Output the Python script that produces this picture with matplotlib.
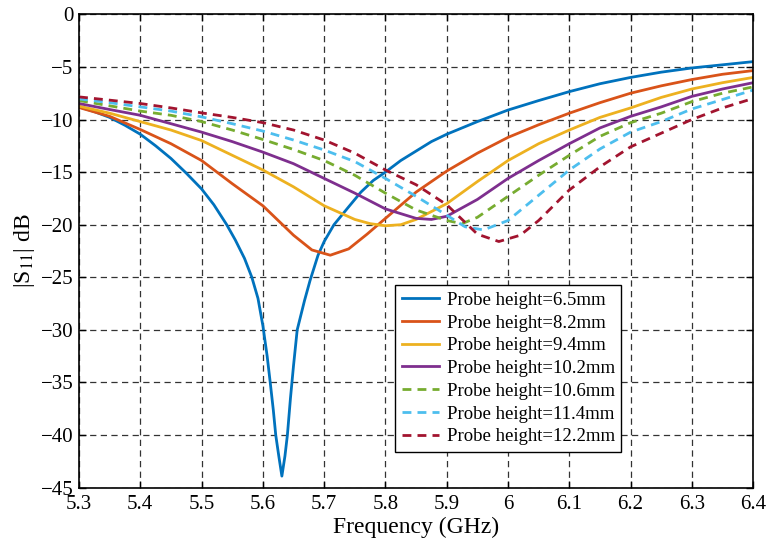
import matplotlib
matplotlib.use("Agg")
import matplotlib.pyplot as plt

plt.rcParams['font.family'] = ['Liberation Serif', 'DejaVu Serif']
plt.rcParams['mathtext.fontset'] = 'stix'

# S11 sweeps for each probe height (GHz, dB)
f_65 = [5.3, 5.325, 5.35, 5.375, 5.4, 5.425, 5.45, 5.475, 5.5, 5.52, 5.541, 5.555, 5.57,
        5.582, 5.592, 5.6, 5.607, 5.612, 5.617, 5.621, 5.626, 5.631, 5.636, 5.64, 5.645,
        5.65, 5.656, 5.668, 5.677, 5.69, 5.70, 5.716, 5.74, 5.76, 5.78, 5.8, 5.825, 5.85,
        5.875, 5.9, 5.95, 6.0, 6.05, 6.1, 6.15, 6.2, 6.25, 6.3, 6.35, 6.4]
s_65 = [-8.8, -9.25, -9.8, -10.55, -11.4, -12.5, -13.7, -15.1, -16.6, -18.1, -20.0, -21.45, -23.2,
        -25.0, -27.0, -29.6, -32.5, -35.0, -37.6, -40.0, -42.0, -43.9, -42.0, -40.0, -36.5,
        -33.4, -30.0, -27.2, -25.3, -22.9, -21.6, -20.0, -18.3, -16.9, -15.8, -15.0, -13.9, -13.0,
        -12.1, -11.4, -10.2, -9.1, -8.2, -7.35, -6.6, -6.0, -5.5, -5.1, -4.8, -4.5]

f_82 = [5.3, 5.35, 5.4, 5.45, 5.5, 5.55, 5.6, 5.65, 5.68, 5.71, 5.74, 5.77, 5.8, 5.85,
        5.9, 5.95, 6.0, 6.05, 6.1, 6.15, 6.2, 6.25, 6.3, 6.35, 6.4]
s_82 = [-8.86, -9.7, -10.95, -12.3, -13.9, -16.1, -18.2, -21.0, -22.4, -22.9, -22.3, -20.9,
        -19.4, -16.9, -14.9, -13.2, -11.7, -10.5, -9.4, -8.4, -7.5, -6.8, -6.2, -5.7, -5.35]

f_94 = [5.3, 5.35, 5.4, 5.45, 5.5, 5.55, 5.6, 5.65, 5.7, 5.75, 5.775, 5.8, 5.825, 5.85,
        5.9, 5.95, 6.0, 6.05, 6.1, 6.15, 6.2, 6.25, 6.3, 6.35, 6.4]
s_94 = [-8.73, -9.4, -10.2, -11.0, -12.0, -13.4, -14.8, -16.4, -18.2, -19.5, -19.9, -20.1,
        -20.0, -19.5, -18.0, -15.9, -13.9, -12.3, -11.0, -9.8, -8.9, -7.9, -7.1, -6.5, -6.0]

f_102 = [5.3, 5.35, 5.4, 5.45, 5.5, 5.55, 5.6, 5.65, 5.7, 5.75, 5.8, 5.85, 5.875, 5.9,
         5.95, 6.0, 6.05, 6.1, 6.15, 6.2, 6.25, 6.3, 6.35, 6.4]
s_102 = [-8.48, -9.05, -9.6, -10.4, -11.2, -12.1, -13.1, -14.2, -15.6, -17.0, -18.5, -19.4,
         -19.5, -19.2, -17.6, -15.6, -13.9, -12.3, -10.8, -9.7, -8.8, -7.8, -7.1, -6.5]

f_106 = [5.3, 5.35, 5.4, 5.45, 5.5, 5.55, 5.6, 5.65, 5.7, 5.75, 5.8, 5.85, 5.9, 5.925,
         5.95, 6.0, 6.05, 6.1, 6.15, 6.2, 6.25, 6.3, 6.35, 6.4]
s_106 = [-8.2, -8.7, -9.2, -9.6, -10.2, -11.0, -11.9, -12.85, -13.9, -15.3, -17.0, -18.6,
         -19.6, -19.9, -19.3, -17.3, -15.3, -13.4, -11.6, -10.3, -9.4, -8.3, -7.5, -6.9]

f_114 = [5.3, 5.35, 5.4, 5.45, 5.5, 5.55, 5.6, 5.65, 5.7, 5.75, 5.8, 5.85, 5.9, 5.93,
         5.96, 6.0, 6.05, 6.1, 6.15, 6.2, 6.25, 6.3, 6.35, 6.4]
s_114 = [-8.04, -8.4, -8.8, -9.2, -9.75, -10.4, -11.1, -11.95, -12.9, -14.0, -15.6, -17.3,
         -19.1, -20.2, -20.5, -19.6, -17.2, -14.8, -12.8, -11.2, -10.2, -9.0, -8.1, -7.2]

f_122 = [5.3, 5.35, 5.4, 5.45, 5.5, 5.55, 5.6, 5.65, 5.7, 5.75, 5.8, 5.85, 5.9, 5.95,
         5.985, 6.02, 6.05, 6.1, 6.15, 6.2, 6.25, 6.3, 6.35, 6.4]
s_122 = [-7.85, -8.16, -8.48, -8.9, -9.37, -9.8, -10.3, -11.0, -11.95, -13.2, -14.8, -16.2,
         -18.1, -20.9, -21.6, -21.0, -19.6, -16.7, -14.5, -12.6, -11.3, -10.0, -8.9, -8.0]

labels = ['Probe height=6.5mm', 'Probe height=8.2mm', 'Probe height=9.4mm',
          'Probe height=10.2mm', 'Probe height=10.6mm', 'Probe height=11.4mm',
          'Probe height=12.2mm']
series = [(f_65, s_65), (f_82, s_82), (f_94, s_94), (f_102, s_102),
          (f_106, s_106), (f_114, s_114), (f_122, s_122)]
colors = ['#0072BD', '#D95319', '#EDB120', '#7E2F8E', '#77AC30', '#4DBEEE', '#A2142F']
styles = ['-', '-', '-', '-', '--', '--', '--']

fig = plt.figure(figsize=(7.67, 5.46), dpi=100)
ax = fig.add_axes([0.103, 0.1068, 0.879, 0.867])

for (f, s), lab, c, ls in zip(series, labels, colors, styles):
    line, = ax.plot(f, s, color=c, linestyle=ls, linewidth=2, label=lab)
    if ls == '--':
        line.set_dashes([3.2, 2.2])

ax.set_xlim(5.3, 6.4)
ax.set_ylim(-45, 0)
ax.set_xticks([5.3, 5.4, 5.5, 5.6, 5.7, 5.8, 5.9, 6.0, 6.1, 6.2, 6.3, 6.4])
ax.set_xticklabels(['5.3', '5.4', '5.5', '5.6', '5.7', '5.8', '5.9', '6', '6.1', '6.2', '6.3', '6.4'])
ax.set_yticks(range(-45, 1, 5))
ax.set_yticklabels(['\u221245', '\u221240', '\u221235', '\u221230', '\u221225', '\u221220',
                    '\u221215', '\u221210', '\u22125', '0'])
ax.tick_params(direction='in', top=True, right=True, labelsize=15, length=5, width=1)
ax.tick_params(axis='x', pad=5)
ax.tick_params(axis='y', pad=4)
ax.grid(True, color='0.2', linestyle=(0, (5, 3.5)), linewidth=0.9)
for sp in ax.spines.values():
    sp.set_linewidth(1.2)

ax.set_xlabel('Frequency (GHz)', fontsize=17, labelpad=2)
ax.set_ylabel('|S$_{11}$| dB', fontsize=17, labelpad=3)

leg = ax.legend(loc='upper left', bbox_to_anchor=(0.4687, 0.428), borderaxespad=0,
                fontsize=13.5, frameon=True, fancybox=False, handlelength=2.0,
                handletextpad=0.4, labelspacing=0.3, borderpad=0.35)
leg.get_frame().set_edgecolor('black')
leg.get_frame().set_linewidth(1)
leg.get_frame().set_alpha(1)

fig.savefig('out.png', dpi=100)
